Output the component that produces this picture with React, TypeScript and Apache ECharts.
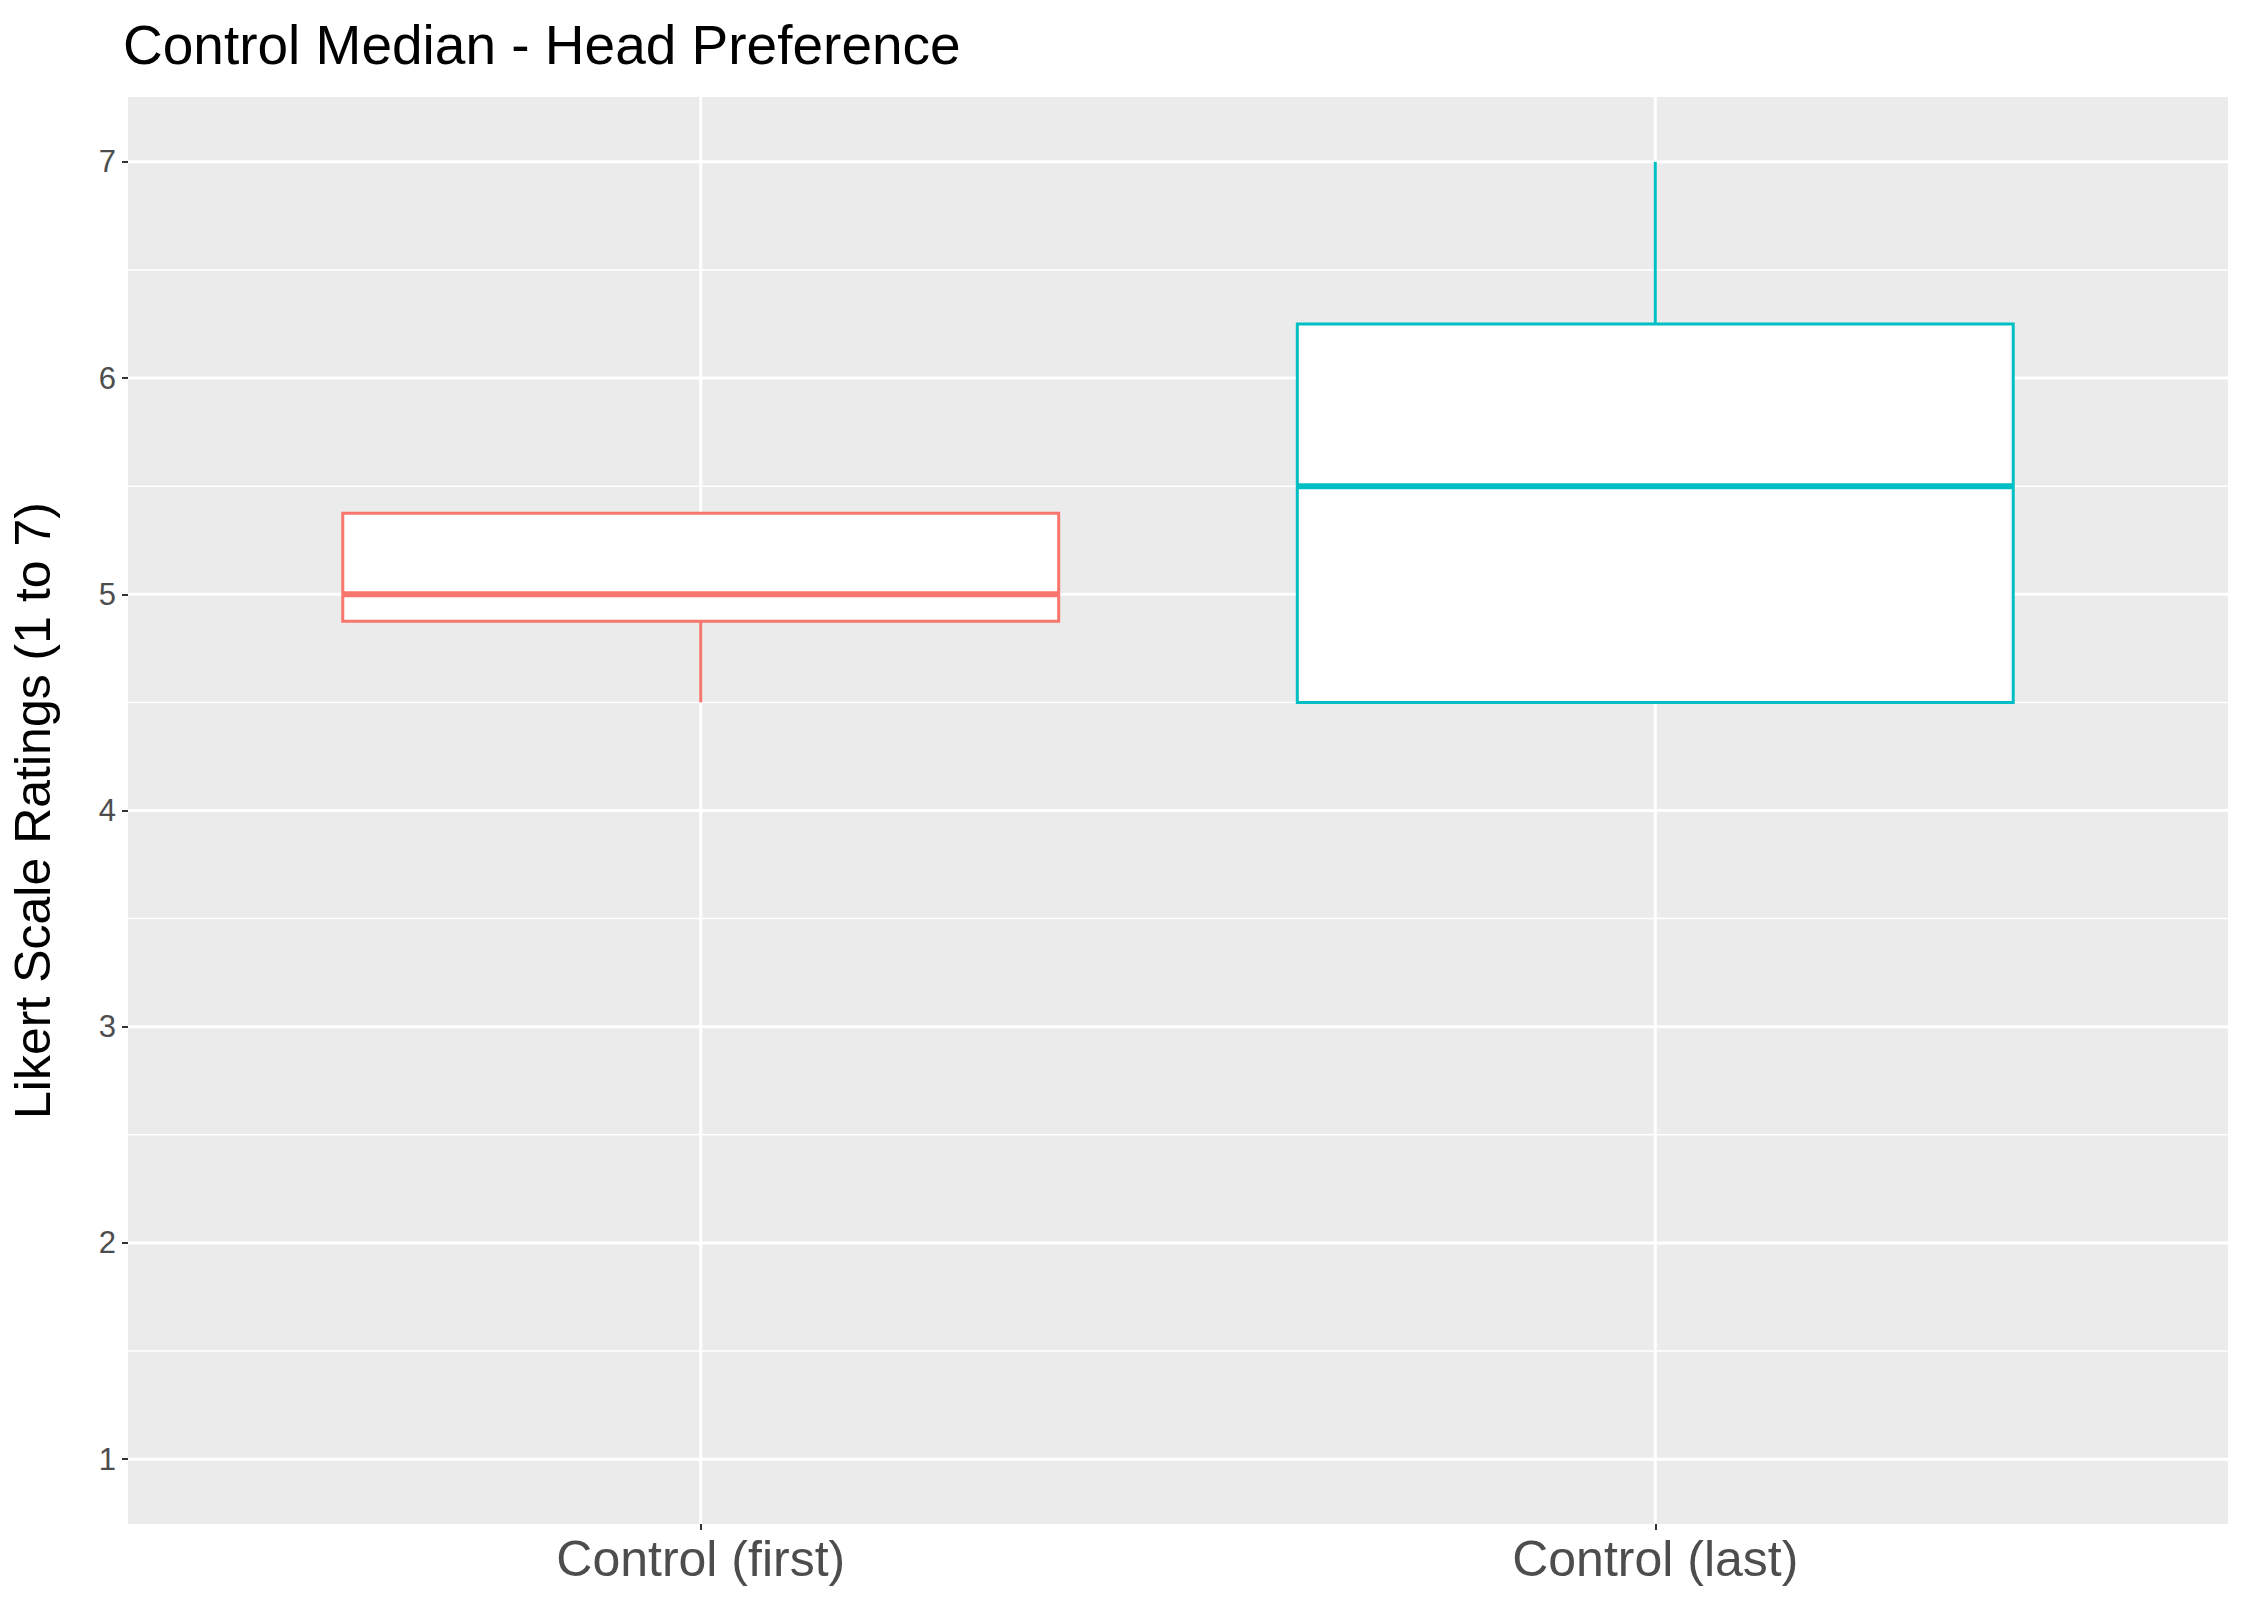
import * as echarts from "echarts";
import { useEffect, useRef } from "react";

const categories = ["Control (first)", "Control (last)"];
const mins = [4.5, 4.5];
const q1s = [4.875, 4.5];
const medians = [5, 5.5];
const q3s = [5.375, 6.25];
const maxs = [5.375, 7];
const colors = ["#F8766D", "#00BFC4"];
const yTicks = [1, 2, 3, 4, 5, 6, 7];
const yMinor = [1.5, 2.5, 3.5, 4.5, 5.5, 6.5];
const xTicks = [1, 2];

export default function App() {
    const chartRef = useRef<HTMLDivElement>(null);

    useEffect(() => {
        document.body.style.margin = "0";
        if (!chartRef.current) return;
        const chart = echarts.init(chartRef.current, undefined, { renderer: "svg" });
        const font = "Liberation Sans, Arial, sans-serif";

        const boxData = categories.map((_, i) => [i + 1, mins[i], q1s[i], medians[i], q3s[i], maxs[i], i]);
        // grid lines: [orientation (0 = horizontal, 1 = vertical), value, width]
        const gridData = [
            ...yMinor.map((v) => [0, v, 1.5]),
            ...yTicks.map((v) => [0, v, 3]),
            ...xTicks.map((v) => [1, v, 3])
        ];

        const option: echarts.EChartsOption = {
            animation: false,
            backgroundColor: "#FFFFFF",
            title: {
                text: "Control Median - Head Preference",
                left: 118,
                top: 12,
                textStyle: { fontFamily: font, fontSize: 55, fontWeight: "normal", color: "#000" }
            },
            grid: {
                left: 113,
                right: 25,
                top: 97,
                bottom: 91,
                show: true,
                backgroundColor: "#EBEBEB",
                borderWidth: 0
            },
            xAxis: {
                type: "value",
                min: 0.4,
                max: 2.6,
                splitLine: { show: false },
                axisLine: { show: false },
                axisTick: {
                    show: true,
                    customValues: xTicks,
                    length: 6,
                    lineStyle: { color: "#333", width: 2 }
                },
                axisLabel: {
                    customValues: xTicks,
                    formatter: (v: number) => categories[Math.round(v) - 1] ?? "",
                    fontFamily: font,
                    fontSize: 50,
                    color: "#4D4D4D",
                    margin: 10
                }
            },
            yAxis: {
                type: "value",
                min: 0.7,
                max: 7.3,
                name: "Likert Scale Ratings (1 to 7)",
                nameLocation: "middle",
                nameGap: 70,
                nameTextStyle: { fontFamily: font, fontSize: 50, color: "#000" },
                splitLine: { show: false },
                axisLine: { show: false },
                axisTick: {
                    show: true,
                    customValues: yTicks,
                    length: 6,
                    lineStyle: { color: "#333", width: 2 }
                },
                axisLabel: {
                    customValues: yTicks,
                    fontFamily: font,
                    fontSize: 31,
                    color: "#4D4D4D",
                    margin: 12
                }
            },
            series: [
                {
                    type: "custom",
                    z: 1,
                    silent: true,
                    data: gridData,
                    renderItem: (params: any, api: any) => {
                        const cs = params.coordSys;
                        const horiz = api.value(0) === 0;
                        const v = api.value(1);
                        const w = api.value(2);
                        if (horiz) {
                            const y = api.coord([1, v])[1];
                            return {
                                type: "line",
                                shape: { x1: cs.x, y1: y, x2: cs.x + cs.width, y2: y },
                                style: { stroke: "#FFFFFF", lineWidth: w }
                            };
                        }
                        const x = api.coord([v, 1])[0];
                        return {
                            type: "line",
                            shape: { x1: x, y1: cs.y, x2: x, y2: cs.y + cs.height },
                            style: { stroke: "#FFFFFF", lineWidth: w }
                        };
                    }
                },
                {
                    type: "custom",
                    z: 2,
                    data: boxData,
                    renderItem: (params: any, api: any) => {
                        const x = api.value(0);
                        const idx = api.value(6);
                        const color = colors[idx];
                        const half = 0.375;
                        const pMin = api.coord([x, api.value(1)]);
                        const pQ1 = api.coord([x, api.value(2)]);
                        const pMed = api.coord([x, api.value(3)]);
                        const pQ3 = api.coord([x, api.value(4)]);
                        const pMax = api.coord([x, api.value(5)]);
                        const left = api.coord([x - half, 1])[0];
                        const right = api.coord([x + half, 1])[0];
                        return {
                            type: "group",
                            children: [
                                {
                                    type: "line",
                                    shape: { x1: pMin[0], y1: pMin[1], x2: pQ1[0], y2: pQ1[1] },
                                    style: { stroke: color, lineWidth: 3 }
                                },
                                {
                                    type: "line",
                                    shape: { x1: pQ3[0], y1: pQ3[1], x2: pMax[0], y2: pMax[1] },
                                    style: { stroke: color, lineWidth: 3 }
                                },
                                {
                                    type: "rect",
                                    shape: { x: left, y: pQ3[1], width: right - left, height: pQ1[1] - pQ3[1] },
                                    style: { fill: "#FFFFFF", stroke: color, lineWidth: 3 }
                                },
                                {
                                    type: "line",
                                    shape: { x1: left, y1: pMed[1], x2: right, y2: pMed[1] },
                                    style: { stroke: color, lineWidth: 6 }
                                }
                            ]
                        };
                    }
                }
            ]
        };

        chart.setOption(option);
        return () => {
            chart.dispose();
        };
    }, []);

    return <div ref={chartRef} style={{ width: 2253, height: 1615 }} />;
}
